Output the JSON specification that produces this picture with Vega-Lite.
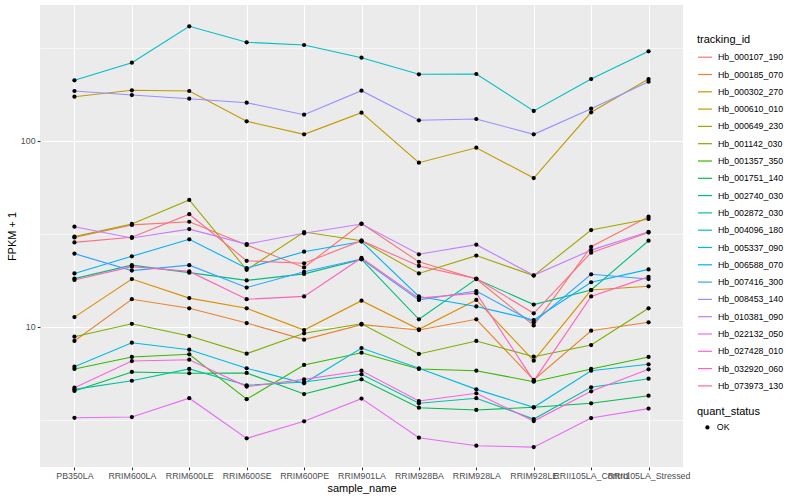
{
"$schema":"https://vega.github.io/schema/vega-lite/v6.json",
"autosize":{"type":"none"},
"padding":{"left":40,"top":5,"right":117,"bottom":33},
"width":643,"height":462,
"background":"white",
"config":{"view":{"fill":"#EBEBEB","stroke":null},"font":"Liberation Sans"},
"datasets":{"d":[
{"tracking_id":"Hb_000107_190","sample_name":"PB350LA","fpkm_plus_1":30.3,"quant_status":"OK"},
{"tracking_id":"Hb_000107_190","sample_name":"RRIM600LA","fpkm_plus_1":35.4,"quant_status":"OK"},
{"tracking_id":"Hb_000107_190","sample_name":"RRIM600LE","fpkm_plus_1":36.8,"quant_status":"OK"},
{"tracking_id":"Hb_000107_190","sample_name":"RRIM600SE","fpkm_plus_1":27.6,"quant_status":"OK"},
{"tracking_id":"Hb_000107_190","sample_name":"RRIM600PE","fpkm_plus_1":20.9,"quant_status":"OK"},
{"tracking_id":"Hb_000107_190","sample_name":"RRIM901LA","fpkm_plus_1":36.0,"quant_status":"OK"},
{"tracking_id":"Hb_000107_190","sample_name":"RRIM928BA","fpkm_plus_1":22.4,"quant_status":"OK"},
{"tracking_id":"Hb_000107_190","sample_name":"RRIM928LA","fpkm_plus_1":18.1,"quant_status":"OK"},
{"tracking_id":"Hb_000107_190","sample_name":"RRIM928LE","fpkm_plus_1":10.2,"quant_status":"OK"},
{"tracking_id":"Hb_000107_190","sample_name":"RRII105LA_Control","fpkm_plus_1":27.0,"quant_status":"OK"},
{"tracking_id":"Hb_000107_190","sample_name":"RRII105LA_Stressed","fpkm_plus_1":39.2,"quant_status":"OK"},
{"tracking_id":"Hb_000185_070","sample_name":"PB350LA","fpkm_plus_1":8.41,"quant_status":"OK"},
{"tracking_id":"Hb_000185_070","sample_name":"RRIM600LA","fpkm_plus_1":14.1,"quant_status":"OK"},
{"tracking_id":"Hb_000185_070","sample_name":"RRIM600LE","fpkm_plus_1":12.6,"quant_status":"OK"},
{"tracking_id":"Hb_000185_070","sample_name":"RRIM600SE","fpkm_plus_1":10.5,"quant_status":"OK"},
{"tracking_id":"Hb_000185_070","sample_name":"RRIM600PE","fpkm_plus_1":8.55,"quant_status":"OK"},
{"tracking_id":"Hb_000185_070","sample_name":"RRIM901LA","fpkm_plus_1":10.3,"quant_status":"OK"},
{"tracking_id":"Hb_000185_070","sample_name":"RRIM928BA","fpkm_plus_1":9.63,"quant_status":"OK"},
{"tracking_id":"Hb_000185_070","sample_name":"RRIM928LA","fpkm_plus_1":11.0,"quant_status":"OK"},
{"tracking_id":"Hb_000185_070","sample_name":"RRIM928LE","fpkm_plus_1":5.19,"quant_status":"OK"},
{"tracking_id":"Hb_000185_070","sample_name":"RRII105LA_Control","fpkm_plus_1":9.55,"quant_status":"OK"},
{"tracking_id":"Hb_000185_070","sample_name":"RRII105LA_Stressed","fpkm_plus_1":10.6,"quant_status":"OK"},
{"tracking_id":"Hb_000302_270","sample_name":"PB350LA","fpkm_plus_1":11.3,"quant_status":"OK"},
{"tracking_id":"Hb_000302_270","sample_name":"RRIM600LA","fpkm_plus_1":18.1,"quant_status":"OK"},
{"tracking_id":"Hb_000302_270","sample_name":"RRIM600LE","fpkm_plus_1":14.3,"quant_status":"OK"},
{"tracking_id":"Hb_000302_270","sample_name":"RRIM600SE","fpkm_plus_1":12.6,"quant_status":"OK"},
{"tracking_id":"Hb_000302_270","sample_name":"RRIM600PE","fpkm_plus_1":9.63,"quant_status":"OK"},
{"tracking_id":"Hb_000302_270","sample_name":"RRIM901LA","fpkm_plus_1":13.85,"quant_status":"OK"},
{"tracking_id":"Hb_000302_270","sample_name":"RRIM928BA","fpkm_plus_1":9.72,"quant_status":"OK"},
{"tracking_id":"Hb_000302_270","sample_name":"RRIM928LA","fpkm_plus_1":13.97,"quant_status":"OK"},
{"tracking_id":"Hb_000302_270","sample_name":"RRIM928LE","fpkm_plus_1":6.59,"quant_status":"OK"},
{"tracking_id":"Hb_000302_270","sample_name":"RRII105LA_Control","fpkm_plus_1":15.8,"quant_status":"OK"},
{"tracking_id":"Hb_000302_270","sample_name":"RRII105LA_Stressed","fpkm_plus_1":16.55,"quant_status":"OK"},
{"tracking_id":"Hb_000610_010","sample_name":"PB350LA","fpkm_plus_1":173.1,"quant_status":"OK"},
{"tracking_id":"Hb_000610_010","sample_name":"RRIM600LA","fpkm_plus_1":187.3,"quant_status":"OK"},
{"tracking_id":"Hb_000610_010","sample_name":"RRIM600LE","fpkm_plus_1":185.7,"quant_status":"OK"},
{"tracking_id":"Hb_000610_010","sample_name":"RRIM600SE","fpkm_plus_1":127.6,"quant_status":"OK"},
{"tracking_id":"Hb_000610_010","sample_name":"RRIM600PE","fpkm_plus_1":108.6,"quant_status":"OK"},
{"tracking_id":"Hb_000610_010","sample_name":"RRIM901LA","fpkm_plus_1":142.0,"quant_status":"OK"},
{"tracking_id":"Hb_000610_010","sample_name":"RRIM928BA","fpkm_plus_1":76.4,"quant_status":"OK"},
{"tracking_id":"Hb_000610_010","sample_name":"RRIM928LA","fpkm_plus_1":92.0,"quant_status":"OK"},
{"tracking_id":"Hb_000610_010","sample_name":"RRIM928LE","fpkm_plus_1":63.2,"quant_status":"OK"},
{"tracking_id":"Hb_000610_010","sample_name":"RRII105LA_Control","fpkm_plus_1":142.7,"quant_status":"OK"},
{"tracking_id":"Hb_000610_010","sample_name":"RRII105LA_Stressed","fpkm_plus_1":215.4,"quant_status":"OK"},
{"tracking_id":"Hb_000649_230","sample_name":"PB350LA","fpkm_plus_1":30.6,"quant_status":"OK"},
{"tracking_id":"Hb_000649_230","sample_name":"RRIM600LA","fpkm_plus_1":35.8,"quant_status":"OK"},
{"tracking_id":"Hb_000649_230","sample_name":"RRIM600LE","fpkm_plus_1":48.2,"quant_status":"OK"},
{"tracking_id":"Hb_000649_230","sample_name":"RRIM600SE","fpkm_plus_1":20.3,"quant_status":"OK"},
{"tracking_id":"Hb_000649_230","sample_name":"RRIM600PE","fpkm_plus_1":32.4,"quant_status":"OK"},
{"tracking_id":"Hb_000649_230","sample_name":"RRIM901LA","fpkm_plus_1":29.1,"quant_status":"OK"},
{"tracking_id":"Hb_000649_230","sample_name":"RRIM928BA","fpkm_plus_1":19.4,"quant_status":"OK"},
{"tracking_id":"Hb_000649_230","sample_name":"RRIM928LA","fpkm_plus_1":24.2,"quant_status":"OK"},
{"tracking_id":"Hb_000649_230","sample_name":"RRIM928LE","fpkm_plus_1":18.9,"quant_status":"OK"},
{"tracking_id":"Hb_000649_230","sample_name":"RRII105LA_Control","fpkm_plus_1":33.2,"quant_status":"OK"},
{"tracking_id":"Hb_000649_230","sample_name":"RRII105LA_Stressed","fpkm_plus_1":38.1,"quant_status":"OK"},
{"tracking_id":"Hb_001142_030","sample_name":"PB350LA","fpkm_plus_1":8.87,"quant_status":"OK"},
{"tracking_id":"Hb_001142_030","sample_name":"RRIM600LA","fpkm_plus_1":10.4,"quant_status":"OK"},
{"tracking_id":"Hb_001142_030","sample_name":"RRIM600LE","fpkm_plus_1":8.94,"quant_status":"OK"},
{"tracking_id":"Hb_001142_030","sample_name":"RRIM600SE","fpkm_plus_1":7.19,"quant_status":"OK"},
{"tracking_id":"Hb_001142_030","sample_name":"RRIM600PE","fpkm_plus_1":9.25,"quant_status":"OK"},
{"tracking_id":"Hb_001142_030","sample_name":"RRIM901LA","fpkm_plus_1":10.4,"quant_status":"OK"},
{"tracking_id":"Hb_001142_030","sample_name":"RRIM928BA","fpkm_plus_1":7.16,"quant_status":"OK"},
{"tracking_id":"Hb_001142_030","sample_name":"RRIM928LA","fpkm_plus_1":8.41,"quant_status":"OK"},
{"tracking_id":"Hb_001142_030","sample_name":"RRIM928LE","fpkm_plus_1":6.92,"quant_status":"OK"},
{"tracking_id":"Hb_001142_030","sample_name":"RRII105LA_Control","fpkm_plus_1":8.0,"quant_status":"OK"},
{"tracking_id":"Hb_001142_030","sample_name":"RRII105LA_Stressed","fpkm_plus_1":12.6,"quant_status":"OK"},
{"tracking_id":"Hb_001357_350","sample_name":"PB350LA","fpkm_plus_1":5.95,"quant_status":"OK"},
{"tracking_id":"Hb_001357_350","sample_name":"RRIM600LA","fpkm_plus_1":6.9,"quant_status":"OK"},
{"tracking_id":"Hb_001357_350","sample_name":"RRIM600LE","fpkm_plus_1":7.13,"quant_status":"OK"},
{"tracking_id":"Hb_001357_350","sample_name":"RRIM600SE","fpkm_plus_1":4.09,"quant_status":"OK"},
{"tracking_id":"Hb_001357_350","sample_name":"RRIM600PE","fpkm_plus_1":6.25,"quant_status":"OK"},
{"tracking_id":"Hb_001357_350","sample_name":"RRIM901LA","fpkm_plus_1":7.27,"quant_status":"OK"},
{"tracking_id":"Hb_001357_350","sample_name":"RRIM928BA","fpkm_plus_1":5.95,"quant_status":"OK"},
{"tracking_id":"Hb_001357_350","sample_name":"RRIM928LA","fpkm_plus_1":5.82,"quant_status":"OK"},
{"tracking_id":"Hb_001357_350","sample_name":"RRIM928LE","fpkm_plus_1":5.08,"quant_status":"OK"},
{"tracking_id":"Hb_001357_350","sample_name":"RRII105LA_Control","fpkm_plus_1":5.95,"quant_status":"OK"},
{"tracking_id":"Hb_001357_350","sample_name":"RRII105LA_Stressed","fpkm_plus_1":6.9,"quant_status":"OK"},
{"tracking_id":"Hb_001751_140","sample_name":"PB350LA","fpkm_plus_1":4.53,"quant_status":"OK"},
{"tracking_id":"Hb_001751_140","sample_name":"RRIM600LA","fpkm_plus_1":5.73,"quant_status":"OK"},
{"tracking_id":"Hb_001751_140","sample_name":"RRIM600LE","fpkm_plus_1":5.64,"quant_status":"OK"},
{"tracking_id":"Hb_001751_140","sample_name":"RRIM600SE","fpkm_plus_1":5.66,"quant_status":"OK"},
{"tracking_id":"Hb_001751_140","sample_name":"RRIM600PE","fpkm_plus_1":4.36,"quant_status":"OK"},
{"tracking_id":"Hb_001751_140","sample_name":"RRIM901LA","fpkm_plus_1":5.23,"quant_status":"OK"},
{"tracking_id":"Hb_001751_140","sample_name":"RRIM928BA","fpkm_plus_1":3.68,"quant_status":"OK"},
{"tracking_id":"Hb_001751_140","sample_name":"RRIM928LA","fpkm_plus_1":3.58,"quant_status":"OK"},
{"tracking_id":"Hb_001751_140","sample_name":"RRIM928LE","fpkm_plus_1":3.7,"quant_status":"OK"},
{"tracking_id":"Hb_001751_140","sample_name":"RRII105LA_Control","fpkm_plus_1":3.89,"quant_status":"OK"},
{"tracking_id":"Hb_001751_140","sample_name":"RRII105LA_Stressed","fpkm_plus_1":4.27,"quant_status":"OK"},
{"tracking_id":"Hb_002740_030","sample_name":"PB350LA","fpkm_plus_1":18.2,"quant_status":"OK"},
{"tracking_id":"Hb_002740_030","sample_name":"RRIM600LA","fpkm_plus_1":21.5,"quant_status":"OK"},
{"tracking_id":"Hb_002740_030","sample_name":"RRIM600LE","fpkm_plus_1":19.6,"quant_status":"OK"},
{"tracking_id":"Hb_002740_030","sample_name":"RRIM600SE","fpkm_plus_1":17.8,"quant_status":"OK"},
{"tracking_id":"Hb_002740_030","sample_name":"RRIM600PE","fpkm_plus_1":19.3,"quant_status":"OK"},
{"tracking_id":"Hb_002740_030","sample_name":"RRIM901LA","fpkm_plus_1":23.1,"quant_status":"OK"},
{"tracking_id":"Hb_002740_030","sample_name":"RRIM928BA","fpkm_plus_1":11.0,"quant_status":"OK"},
{"tracking_id":"Hb_002740_030","sample_name":"RRIM928LA","fpkm_plus_1":18.1,"quant_status":"OK"},
{"tracking_id":"Hb_002740_030","sample_name":"RRIM928LE","fpkm_plus_1":13.2,"quant_status":"OK"},
{"tracking_id":"Hb_002740_030","sample_name":"RRII105LA_Control","fpkm_plus_1":15.8,"quant_status":"OK"},
{"tracking_id":"Hb_002740_030","sample_name":"RRII105LA_Stressed","fpkm_plus_1":29.1,"quant_status":"OK"},
{"tracking_id":"Hb_002872_030","sample_name":"PB350LA","fpkm_plus_1":4.62,"quant_status":"OK"},
{"tracking_id":"Hb_002872_030","sample_name":"RRIM600LA","fpkm_plus_1":5.14,"quant_status":"OK"},
{"tracking_id":"Hb_002872_030","sample_name":"RRIM600LE","fpkm_plus_1":5.95,"quant_status":"OK"},
{"tracking_id":"Hb_002872_030","sample_name":"RRIM600SE","fpkm_plus_1":4.86,"quant_status":"OK"},
{"tracking_id":"Hb_002872_030","sample_name":"RRIM600PE","fpkm_plus_1":5.06,"quant_status":"OK"},
{"tracking_id":"Hb_002872_030","sample_name":"RRIM901LA","fpkm_plus_1":5.57,"quant_status":"OK"},
{"tracking_id":"Hb_002872_030","sample_name":"RRIM928BA","fpkm_plus_1":3.89,"quant_status":"OK"},
{"tracking_id":"Hb_002872_030","sample_name":"RRIM928LA","fpkm_plus_1":4.14,"quant_status":"OK"},
{"tracking_id":"Hb_002872_030","sample_name":"RRIM928LE","fpkm_plus_1":3.2,"quant_status":"OK"},
{"tracking_id":"Hb_002872_030","sample_name":"RRII105LA_Control","fpkm_plus_1":4.74,"quant_status":"OK"},
{"tracking_id":"Hb_002872_030","sample_name":"RRII105LA_Stressed","fpkm_plus_1":5.27,"quant_status":"OK"},
{"tracking_id":"Hb_004096_180","sample_name":"PB350LA","fpkm_plus_1":212.0,"quant_status":"OK"},
{"tracking_id":"Hb_004096_180","sample_name":"RRIM600LA","fpkm_plus_1":263.6,"quant_status":"OK"},
{"tracking_id":"Hb_004096_180","sample_name":"RRIM600LE","fpkm_plus_1":413.6,"quant_status":"OK"},
{"tracking_id":"Hb_004096_180","sample_name":"RRIM600SE","fpkm_plus_1":339.4,"quant_status":"OK"},
{"tracking_id":"Hb_004096_180","sample_name":"RRIM600PE","fpkm_plus_1":328.2,"quant_status":"OK"},
{"tracking_id":"Hb_004096_180","sample_name":"RRIM901LA","fpkm_plus_1":280.4,"quant_status":"OK"},
{"tracking_id":"Hb_004096_180","sample_name":"RRIM928BA","fpkm_plus_1":228.4,"quant_status":"OK"},
{"tracking_id":"Hb_004096_180","sample_name":"RRIM928LA","fpkm_plus_1":229.2,"quant_status":"OK"},
{"tracking_id":"Hb_004096_180","sample_name":"RRIM928LE","fpkm_plus_1":145.0,"quant_status":"OK"},
{"tracking_id":"Hb_004096_180","sample_name":"RRII105LA_Control","fpkm_plus_1":215.4,"quant_status":"OK"},
{"tracking_id":"Hb_004096_180","sample_name":"RRII105LA_Stressed","fpkm_plus_1":303.6,"quant_status":"OK"},
{"tracking_id":"Hb_005337_090","sample_name":"PB350LA","fpkm_plus_1":6.12,"quant_status":"OK"},
{"tracking_id":"Hb_005337_090","sample_name":"RRIM600LA","fpkm_plus_1":8.23,"quant_status":"OK"},
{"tracking_id":"Hb_005337_090","sample_name":"RRIM600LE","fpkm_plus_1":7.55,"quant_status":"OK"},
{"tracking_id":"Hb_005337_090","sample_name":"RRIM600SE","fpkm_plus_1":6.0,"quant_status":"OK"},
{"tracking_id":"Hb_005337_090","sample_name":"RRIM600PE","fpkm_plus_1":4.98,"quant_status":"OK"},
{"tracking_id":"Hb_005337_090","sample_name":"RRIM901LA","fpkm_plus_1":7.71,"quant_status":"OK"},
{"tracking_id":"Hb_005337_090","sample_name":"RRIM928BA","fpkm_plus_1":6.0,"quant_status":"OK"},
{"tracking_id":"Hb_005337_090","sample_name":"RRIM928LA","fpkm_plus_1":4.62,"quant_status":"OK"},
{"tracking_id":"Hb_005337_090","sample_name":"RRIM928LE","fpkm_plus_1":3.7,"quant_status":"OK"},
{"tracking_id":"Hb_005337_090","sample_name":"RRII105LA_Control","fpkm_plus_1":5.82,"quant_status":"OK"},
{"tracking_id":"Hb_005337_090","sample_name":"RRII105LA_Stressed","fpkm_plus_1":6.3,"quant_status":"OK"},
{"tracking_id":"Hb_006588_070","sample_name":"PB350LA","fpkm_plus_1":19.4,"quant_status":"OK"},
{"tracking_id":"Hb_006588_070","sample_name":"RRIM600LA","fpkm_plus_1":24.0,"quant_status":"OK"},
{"tracking_id":"Hb_006588_070","sample_name":"RRIM600LE","fpkm_plus_1":29.6,"quant_status":"OK"},
{"tracking_id":"Hb_006588_070","sample_name":"RRIM600SE","fpkm_plus_1":20.7,"quant_status":"OK"},
{"tracking_id":"Hb_006588_070","sample_name":"RRIM600PE","fpkm_plus_1":25.4,"quant_status":"OK"},
{"tracking_id":"Hb_006588_070","sample_name":"RRIM901LA","fpkm_plus_1":28.8,"quant_status":"OK"},
{"tracking_id":"Hb_006588_070","sample_name":"RRIM928BA","fpkm_plus_1":14.6,"quant_status":"OK"},
{"tracking_id":"Hb_006588_070","sample_name":"RRIM928LA","fpkm_plus_1":12.9,"quant_status":"OK"},
{"tracking_id":"Hb_006588_070","sample_name":"RRIM928LE","fpkm_plus_1":10.9,"quant_status":"OK"},
{"tracking_id":"Hb_006588_070","sample_name":"RRII105LA_Control","fpkm_plus_1":17.4,"quant_status":"OK"},
{"tracking_id":"Hb_006588_070","sample_name":"RRII105LA_Stressed","fpkm_plus_1":20.4,"quant_status":"OK"},
{"tracking_id":"Hb_007416_300","sample_name":"PB350LA","fpkm_plus_1":24.8,"quant_status":"OK"},
{"tracking_id":"Hb_007416_300","sample_name":"RRIM600LA","fpkm_plus_1":20.1,"quant_status":"OK"},
{"tracking_id":"Hb_007416_300","sample_name":"RRIM600LE","fpkm_plus_1":21.5,"quant_status":"OK"},
{"tracking_id":"Hb_007416_300","sample_name":"RRIM600SE","fpkm_plus_1":16.3,"quant_status":"OK"},
{"tracking_id":"Hb_007416_300","sample_name":"RRIM600PE","fpkm_plus_1":19.8,"quant_status":"OK"},
{"tracking_id":"Hb_007416_300","sample_name":"RRIM901LA","fpkm_plus_1":23.2,"quant_status":"OK"},
{"tracking_id":"Hb_007416_300","sample_name":"RRIM928BA","fpkm_plus_1":13.97,"quant_status":"OK"},
{"tracking_id":"Hb_007416_300","sample_name":"RRIM928LA","fpkm_plus_1":15.6,"quant_status":"OK"},
{"tracking_id":"Hb_007416_300","sample_name":"RRIM928LE","fpkm_plus_1":10.6,"quant_status":"OK"},
{"tracking_id":"Hb_007416_300","sample_name":"RRII105LA_Control","fpkm_plus_1":19.2,"quant_status":"OK"},
{"tracking_id":"Hb_007416_300","sample_name":"RRII105LA_Stressed","fpkm_plus_1":18.1,"quant_status":"OK"},
{"tracking_id":"Hb_008453_140","sample_name":"PB350LA","fpkm_plus_1":185.7,"quant_status":"OK"},
{"tracking_id":"Hb_008453_140","sample_name":"RRIM600LA","fpkm_plus_1":176.7,"quant_status":"OK"},
{"tracking_id":"Hb_008453_140","sample_name":"RRIM600LE","fpkm_plus_1":168.8,"quant_status":"OK"},
{"tracking_id":"Hb_008453_140","sample_name":"RRIM600SE","fpkm_plus_1":160.7,"quant_status":"OK"},
{"tracking_id":"Hb_008453_140","sample_name":"RRIM600PE","fpkm_plus_1":138.5,"quant_status":"OK"},
{"tracking_id":"Hb_008453_140","sample_name":"RRIM901LA","fpkm_plus_1":186.4,"quant_status":"OK"},
{"tracking_id":"Hb_008453_140","sample_name":"RRIM928BA","fpkm_plus_1":129.2,"quant_status":"OK"},
{"tracking_id":"Hb_008453_140","sample_name":"RRIM928LA","fpkm_plus_1":131.3,"quant_status":"OK"},
{"tracking_id":"Hb_008453_140","sample_name":"RRIM928LE","fpkm_plus_1":108.6,"quant_status":"OK"},
{"tracking_id":"Hb_008453_140","sample_name":"RRII105LA_Control","fpkm_plus_1":149.2,"quant_status":"OK"},
{"tracking_id":"Hb_008453_140","sample_name":"RRII105LA_Stressed","fpkm_plus_1":208.4,"quant_status":"OK"},
{"tracking_id":"Hb_010381_090","sample_name":"PB350LA","fpkm_plus_1":34.6,"quant_status":"OK"},
{"tracking_id":"Hb_010381_090","sample_name":"RRIM600LA","fpkm_plus_1":30.1,"quant_status":"OK"},
{"tracking_id":"Hb_010381_090","sample_name":"RRIM600LE","fpkm_plus_1":33.6,"quant_status":"OK"},
{"tracking_id":"Hb_010381_090","sample_name":"RRIM600SE","fpkm_plus_1":27.9,"quant_status":"OK"},
{"tracking_id":"Hb_010381_090","sample_name":"RRIM600PE","fpkm_plus_1":31.9,"quant_status":"OK"},
{"tracking_id":"Hb_010381_090","sample_name":"RRIM901LA","fpkm_plus_1":35.8,"quant_status":"OK"},
{"tracking_id":"Hb_010381_090","sample_name":"RRIM928BA","fpkm_plus_1":24.6,"quant_status":"OK"},
{"tracking_id":"Hb_010381_090","sample_name":"RRIM928LA","fpkm_plus_1":27.7,"quant_status":"OK"},
{"tracking_id":"Hb_010381_090","sample_name":"RRIM928LE","fpkm_plus_1":18.97,"quant_status":"OK"},
{"tracking_id":"Hb_010381_090","sample_name":"RRII105LA_Control","fpkm_plus_1":25.9,"quant_status":"OK"},
{"tracking_id":"Hb_010381_090","sample_name":"RRII105LA_Stressed","fpkm_plus_1":32.5,"quant_status":"OK"},
{"tracking_id":"Hb_022132_050","sample_name":"PB350LA","fpkm_plus_1":3.25,"quant_status":"OK"},
{"tracking_id":"Hb_022132_050","sample_name":"RRIM600LA","fpkm_plus_1":3.28,"quant_status":"OK"},
{"tracking_id":"Hb_022132_050","sample_name":"RRIM600LE","fpkm_plus_1":4.14,"quant_status":"OK"},
{"tracking_id":"Hb_022132_050","sample_name":"RRIM600SE","fpkm_plus_1":2.52,"quant_status":"OK"},
{"tracking_id":"Hb_022132_050","sample_name":"RRIM600PE","fpkm_plus_1":3.11,"quant_status":"OK"},
{"tracking_id":"Hb_022132_050","sample_name":"RRIM901LA","fpkm_plus_1":4.12,"quant_status":"OK"},
{"tracking_id":"Hb_022132_050","sample_name":"RRIM928BA","fpkm_plus_1":2.54,"quant_status":"OK"},
{"tracking_id":"Hb_022132_050","sample_name":"RRIM928LA","fpkm_plus_1":2.3,"quant_status":"OK"},
{"tracking_id":"Hb_022132_050","sample_name":"RRIM928LE","fpkm_plus_1":2.26,"quant_status":"OK"},
{"tracking_id":"Hb_022132_050","sample_name":"RRII105LA_Control","fpkm_plus_1":3.24,"quant_status":"OK"},
{"tracking_id":"Hb_022132_050","sample_name":"RRII105LA_Stressed","fpkm_plus_1":3.64,"quant_status":"OK"},
{"tracking_id":"Hb_027428_010","sample_name":"PB350LA","fpkm_plus_1":4.72,"quant_status":"OK"},
{"tracking_id":"Hb_027428_010","sample_name":"RRIM600LA","fpkm_plus_1":6.56,"quant_status":"OK"},
{"tracking_id":"Hb_027428_010","sample_name":"RRIM600LE","fpkm_plus_1":6.67,"quant_status":"OK"},
{"tracking_id":"Hb_027428_010","sample_name":"RRIM600SE","fpkm_plus_1":4.78,"quant_status":"OK"},
{"tracking_id":"Hb_027428_010","sample_name":"RRIM600PE","fpkm_plus_1":5.23,"quant_status":"OK"},
{"tracking_id":"Hb_027428_010","sample_name":"RRIM901LA","fpkm_plus_1":5.82,"quant_status":"OK"},
{"tracking_id":"Hb_027428_010","sample_name":"RRIM928BA","fpkm_plus_1":4.0,"quant_status":"OK"},
{"tracking_id":"Hb_027428_010","sample_name":"RRIM928LA","fpkm_plus_1":4.4,"quant_status":"OK"},
{"tracking_id":"Hb_027428_010","sample_name":"RRIM928LE","fpkm_plus_1":3.12,"quant_status":"OK"},
{"tracking_id":"Hb_027428_010","sample_name":"RRII105LA_Control","fpkm_plus_1":4.51,"quant_status":"OK"},
{"tracking_id":"Hb_027428_010","sample_name":"RRII105LA_Stressed","fpkm_plus_1":5.92,"quant_status":"OK"},
{"tracking_id":"Hb_032920_060","sample_name":"PB350LA","fpkm_plus_1":17.9,"quant_status":"OK"},
{"tracking_id":"Hb_032920_060","sample_name":"RRIM600LA","fpkm_plus_1":21.1,"quant_status":"OK"},
{"tracking_id":"Hb_032920_060","sample_name":"RRIM600LE","fpkm_plus_1":19.9,"quant_status":"OK"},
{"tracking_id":"Hb_032920_060","sample_name":"RRIM600SE","fpkm_plus_1":14.1,"quant_status":"OK"},
{"tracking_id":"Hb_032920_060","sample_name":"RRIM600PE","fpkm_plus_1":14.6,"quant_status":"OK"},
{"tracking_id":"Hb_032920_060","sample_name":"RRIM901LA","fpkm_plus_1":23.5,"quant_status":"OK"},
{"tracking_id":"Hb_032920_060","sample_name":"RRIM928BA","fpkm_plus_1":14.3,"quant_status":"OK"},
{"tracking_id":"Hb_032920_060","sample_name":"RRIM928LA","fpkm_plus_1":15.2,"quant_status":"OK"},
{"tracking_id":"Hb_032920_060","sample_name":"RRIM928LE","fpkm_plus_1":5.13,"quant_status":"OK"},
{"tracking_id":"Hb_032920_060","sample_name":"RRII105LA_Control","fpkm_plus_1":14.6,"quant_status":"OK"},
{"tracking_id":"Hb_032920_060","sample_name":"RRII105LA_Stressed","fpkm_plus_1":18.6,"quant_status":"OK"},
{"tracking_id":"Hb_073973_130","sample_name":"PB350LA","fpkm_plus_1":28.5,"quant_status":"OK"},
{"tracking_id":"Hb_073973_130","sample_name":"RRIM600LA","fpkm_plus_1":30.4,"quant_status":"OK"},
{"tracking_id":"Hb_073973_130","sample_name":"RRIM600LE","fpkm_plus_1":40.4,"quant_status":"OK"},
{"tracking_id":"Hb_073973_130","sample_name":"RRIM600SE","fpkm_plus_1":22.7,"quant_status":"OK"},
{"tracking_id":"Hb_073973_130","sample_name":"RRIM600PE","fpkm_plus_1":22.0,"quant_status":"OK"},
{"tracking_id":"Hb_073973_130","sample_name":"RRIM901LA","fpkm_plus_1":29.1,"quant_status":"OK"},
{"tracking_id":"Hb_073973_130","sample_name":"RRIM928BA","fpkm_plus_1":21.3,"quant_status":"OK"},
{"tracking_id":"Hb_073973_130","sample_name":"RRIM928LA","fpkm_plus_1":18.2,"quant_status":"OK"},
{"tracking_id":"Hb_073973_130","sample_name":"RRIM928LE","fpkm_plus_1":11.85,"quant_status":"OK"},
{"tracking_id":"Hb_073973_130","sample_name":"RRII105LA_Control","fpkm_plus_1":25.1,"quant_status":"OK"},
{"tracking_id":"Hb_073973_130","sample_name":"RRII105LA_Stressed","fpkm_plus_1":32.2,"quant_status":"OK"}
]},
"data":{"name":"d"},
"encoding":{
"x":{"field":"sample_name","type":"nominal",
"scale":{"type":"point","padding":0.6,"domain":["PB350LA","RRIM600LA","RRIM600LE","RRIM600SE","RRIM600PE","RRIM901LA","RRIM928BA","RRIM928LA","RRIM928LE","RRII105LA_Control","RRII105LA_Stressed"]},
"axis":{"title":"sample_name","labelAngle":0,"labelOverlap":false,"labelFontSize":8.8,"labelColor":"#4D4D4D","tickColor":"#333333","tickSize":2.75,"tickWidth":1.07,"labelPadding":2.2,"titleFontSize":11,"titleFontWeight":"normal","titleColor":"black","titlePadding":2,"grid":true,"gridColor":"white","gridWidth":1.1,"domain":false}},
"y":{"field":"fpkm_plus_1","type":"quantitative",
"scale":{"type":"log","domain":[1.767,538.5],"nice":false},
"axis":{"title":"FPKM + 1","values":[3.1623,10,31.623,100,316.23],
"labelExpr":"datum.value == 10 ? '10' : (datum.value == 100 ? '100' : '')",
"tickOpacity":{"condition":{"test":"datum.value == 10 || datum.value == 100","value":1},"value":0},
"gridWidth":{"condition":{"test":"datum.value == 10 || datum.value == 100","value":1.1},"value":0.6},
"labelOverlap":false,"labelFontSize":8.8,"labelColor":"#4D4D4D","tickColor":"#333333","tickSize":2.75,"tickWidth":1.07,"labelPadding":2.2,"titleFontSize":11,"titleFontWeight":"normal","titleColor":"black","titlePadding":3,"grid":true,"gridColor":"white","domain":false}}
},
"layer":[
{"mark":{"type":"line","strokeWidth":1.1},
"encoding":{"color":{"field":"tracking_id","type":"nominal",
"scale":{"domain":["Hb_000107_190","Hb_000185_070","Hb_000302_270","Hb_000610_010","Hb_000649_230","Hb_001142_030","Hb_001357_350","Hb_001751_140","Hb_002740_030","Hb_002872_030","Hb_004096_180","Hb_005337_090","Hb_006588_070","Hb_007416_300","Hb_008453_140","Hb_010381_090","Hb_022132_050","Hb_027428_010","Hb_032920_060","Hb_073973_130"],
"range":["#F8766D","#EA8331","#D89000","#C09B00","#A3A500","#7CAE00","#39B600","#00BB4E","#00BF7D","#00C1A3","#00BFC4","#00BAE0","#00B0F6","#35A2FF","#9590FF","#C77CFF","#E76BF3","#FA62DB","#FF62BC","#FF6C91"]},
"legend":{"title":"tracking_id","orient":"none","legendX":657,"legendY":28.5,"symbolType":"stroke","symbolSize":196,"symbolStrokeWidth":1.2,"labelFontSize":8.8,"labelColor":"black","titleFontSize":11,"titleFontWeight":"normal","titleColor":"black","titlePadding":4.7,"rowPadding":4.3,"labelOffset":5,"padding":0}}}},
{"mark":{"type":"point","filled":true,"size":18,"color":"black","opacity":1},
"encoding":{"shape":{"field":"quant_status","type":"nominal","scale":{"range":["circle"]},
"legend":{"title":"quant_status","orient":"none","legendX":657,"legendY":401,"symbolFillColor":"black","symbolStrokeColor":"black","symbolSize":18,"symbolOffset":6,"labelFontSize":8.8,"labelColor":"black","titleFontSize":11,"titleFontWeight":"normal","titleColor":"black","titlePadding":6,"labelOffset":5,"padding":0}}}}
]
}
